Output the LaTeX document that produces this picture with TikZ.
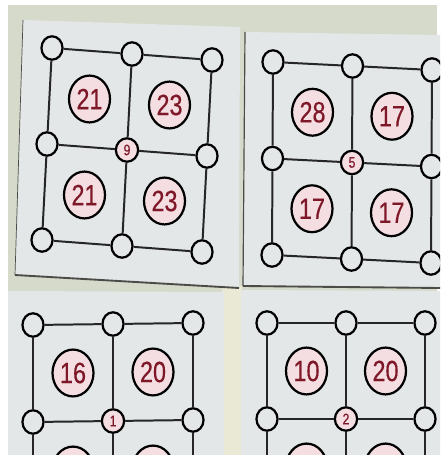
\documentclass[tikz,border=0pt]{standalone}
\usepackage{fontspec}
\setmainfont{Liberation Sans}
\newfontfamily\chiffres[FakeStretch=0.8, FakeBold=0.4]{Liberation Sans}
\usetikzlibrary{shapes.geometric}

\definecolor{fond}{HTML}{D6DACB}
\definecolor{carte}{HTML}{E3E7E8}
\definecolor{fente}{HTML}{E9E9D6}
\definecolor{ombre}{HTML}{4B4B47}
\definecolor{chiffre}{HTML}{7E1828}
\definecolor{rose}{HTML}{F4DEE1}

\tikzset{
  sommet/.style={draw, ellipse, line width=1.9pt, fill=carte, minimum width=18pt, minimum height=20pt, inner sep=0pt},
  centre/.style={sommet, fill=rose, text=chiffre, minimum width=19pt, font=\chiffres\fontsize{13}{13}\selectfont},
  somme/.style={draw, ellipse, line width=1.9pt, fill=rose, minimum width=35pt, minimum height=40pt, inner sep=0pt, text=chiffre, font=\chiffres\fontsize{25}{25}\selectfont},
  trait/.style={line width=1.7pt, black!85}
}

% Grille 3x3 : préfixe, matrice, centre, quatre sommes
\newcommand{\grille}[7]{%
  \begin{scope}[cm={#2}]
    \foreach \i/\j in {0/0,1/0,2/0,0/1,2/1,0/2,1/2,2/2}
      \node[sommet] (#1\i\j) at (\i,\j) {};
    \node[centre] (#111) at (1,1) {#3};
    \node[somme] (#1s1) at (0.5,0.5) {#4};
    \node[somme] (#1s2) at (1.5,0.5) {#5};
    \node[somme] (#1s3) at (0.5,1.5) {#6};
    \node[somme] (#1s4) at (1.5,1.5) {#7};
  \end{scope}
  \foreach \p/\q in {00/10,10/20,01/11,11/21,02/12,12/22,00/01,01/02,10/11,11/12,20/21,21/22}
    \draw[trait] (#1\p) -- (#1\q);}

\begin{document}
\begin{tikzpicture}[x=0.03cm, y=-0.03cm]
    \useasboundingbox (0,0) rectangle (440,455);
    \clip (0,0) rectangle (440,455);
    % Fond de la photo
    \fill[white] (0,0) rectangle (440,455);
    \fill[fond] (8,5) rectangle (437,455);
    \fill[fente] (222,286) rectangle (242,455);
    % Cartes
    \fill[carte] (23,20) -- (240,27) -- (239,288) -- (15,275) -- cycle;
    \draw[ombre, line width=0.6pt] (23,20) -- (15,275);
    \draw[ombre, line width=1.6pt] (15,275) -- (239,288);
    \fill[carte] (245,32) -- (440,35) -- (440,288) -- (243,286) -- cycle;
    \draw[ombre, line width=1pt] (245,32) -- (243,286);
    \draw[ombre, line width=1.6pt] (243,286) -- (440,288);
    \fill[carte] (8,291) -- (224,292) -- (224,455) -- (8,455) -- cycle;
    \fill[carte] (241,290) -- (440,291) -- (440,455) -- (241,455) -- cycle;
    % Grilles
    \grille{a}{80,-6,5,96,(52,48)}{9}{21}{23}{21}{23}
    \grille{b}{79.5,-4,0.5,96.5,(273,62)}{5}{28}{17}{17}{17}
    \grille{c}{80,1,0,97,(33,325)}{1}{16}{20}{}{}
    \grille{d}{79,0,0,96,(267,323)}{2}{10}{20}{}{}
\end{tikzpicture}
\end{document}
